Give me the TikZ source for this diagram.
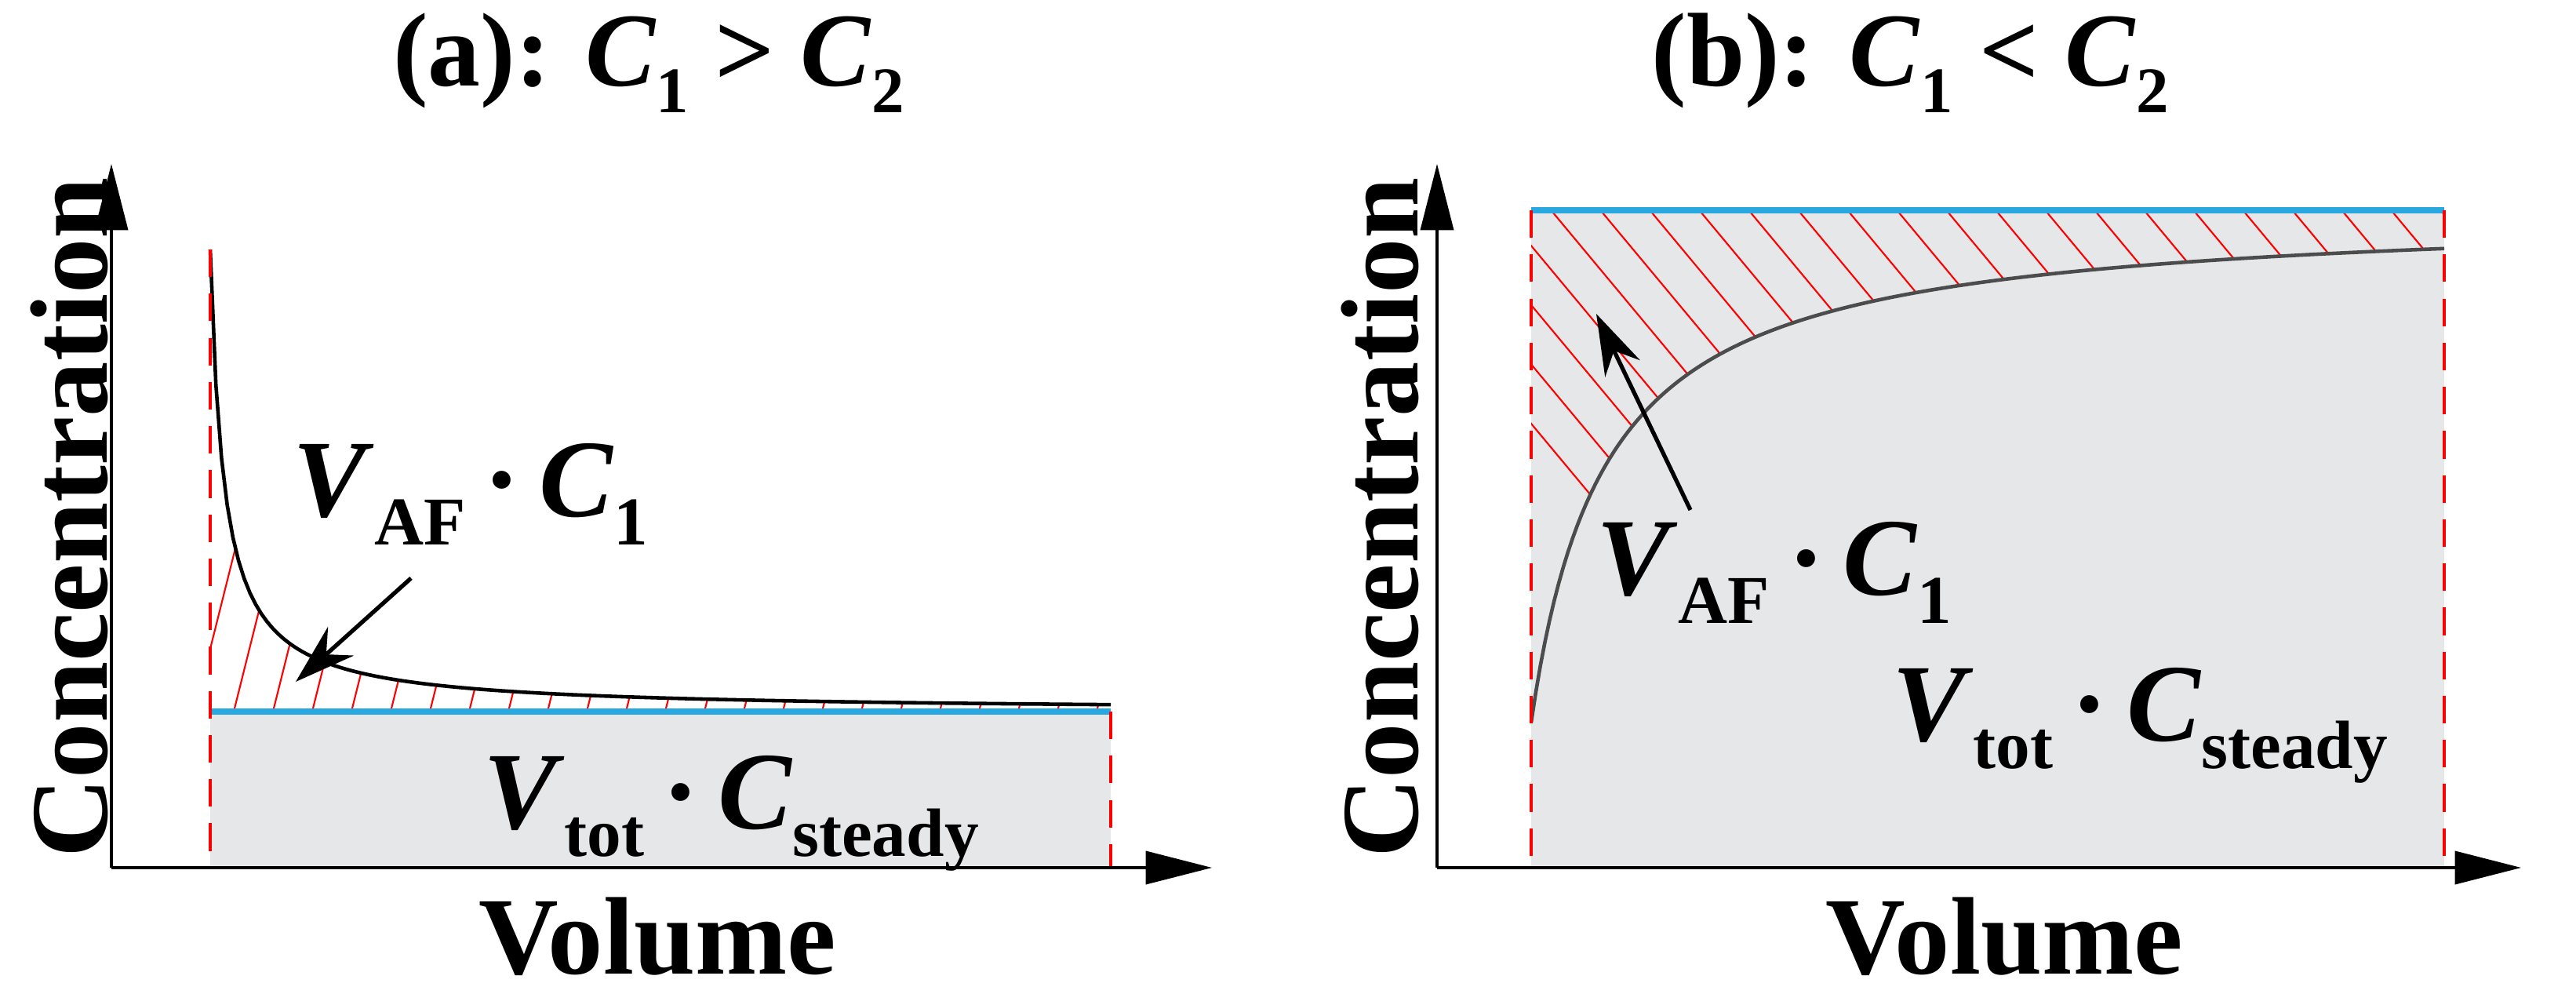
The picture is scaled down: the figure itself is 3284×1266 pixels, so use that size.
\documentclass[tikz,border=0pt]{standalone}
\usepackage{fontspec}
\setmainfont{Liberation Serif}
\usetikzlibrary{arrows.meta}
\definecolor{skyb}{RGB}{41,168,224}
\definecolor{fillg}{RGB}{230,231,233}
\newcommand\dn[1]{\raisebox{-0.55ex}{\scalebox{0.62}{#1}}}
\begin{document}
\begin{tikzpicture}[x=0.01cm,y=-0.01cm,
  axis/.style={line width=0.9pt,-{Triangle[length=24pt,width=12pt]}},
  rdash/.style={red,line width=0.9pt,dash pattern=on 10pt off 6pt},
  bline/.style={skyb,line width=2.4pt},
  curve/.style={line width=1.3pt},
  hatch/.style={red,line width=0.6pt},
  lab/.style={font=\fontsize{40}{44}\selectfont\bfseries},
  ttl/.style={font=\fontsize{38}{42}\selectfont\bfseries},
  expr/.style={font=\fontsize{40}{44}\selectfont\bfseries},
  point/.style={line width=1.5pt,-{Stealth[length=22pt,width=14pt]}}]
\useasboundingbox (0,0) rectangle (3284,1266);
% ---------- panel (a)
\fill[fillg] (268,907) rectangle (1416,1106);
\begin{scope}
\clip (268,907) -- plot[domain=268:1416,samples=120] (\x,{907-589/(\x-268+17.5)*17.5}) -- (1416,907) -- cycle;
\foreach \i in {0,...,24} \draw[hatch] ({268+\i*50-20},907) -- ({268+\i*50-20+120},427);
\end{scope}
\draw[curve] plot[domain=268:1416,samples=160] (\x,{907-589/(\x-268+17.5)*17.5});
\draw[bline] (268,907) -- (1416,907);
\coordinate (aL1) at (268,318); \coordinate (aL2) at (268,1106);
\coordinate (aR1) at (1416,907); \coordinate (aR2) at (1416,1106);
\draw[rdash] (aL1) -- (aL2);
\draw[rdash] (aR1) -- (aR2);
\coordinate (aO) at (142,1106); \coordinate (aY) at (142,209); \coordinate (aX) at (1545,1106);
\draw[axis] (aO) -- (aY);
\draw[axis] (aO) -- (aX);
\node[ttl] (ta) at (827,80) {(a): \textit{C}\dn{1} > \textit{C}\dn{2}};
\node[lab,rotate=90] (ca) at (88,660) {Concentration};
\node[lab] (va) at (838,1194) {Volume};
\node[expr] (ea) at (600,630) {\textit{V}\dn{AF}\,\textperiodcentered\,\textit{C}\dn{1}};
\node[expr] (sa) at (932,1037) {\textit{V}\dn{tot}\,\textperiodcentered\,\textit{C}\dn{steady}};
\coordinate (aA1) at (524,737); \coordinate (aA2) at (377,869);
\draw[point] (aA1) -- (aA2);
% ---------- panel (b)
\fill[fillg] (1952,268) rectangle (3116,1106);
\begin{scope}
\clip (1952,268) -- (3116,268) -- plot[domain=3116:1952,samples=160] (\x,{268+653/(\x-1952+94)*94}) -- cycle;
\foreach \i in {0,...,26} \draw[hatch] ({1952+\i*63-700},-300) -- ({1952+\i*63-700+1000},900);
\end{scope}
\draw[curve,black!70] plot[domain=1952:3116,samples=200] (\x,{268+653/(\x-1952+94)*94});
\draw[bline] (1952,268) -- (3116,268);
\coordinate (bL1) at (1952,268); \coordinate (bL2) at (1952,1106);
\coordinate (bR1) at (3116,268); \coordinate (bR2) at (3116,1106);
\draw[rdash] (bL1) -- (bL2);
\draw[rdash] (bR1) -- (bR2);
\coordinate (bO) at (1832,1106); \coordinate (bY) at (1832,209); \coordinate (bX) at (3214,1106);
\draw[axis] (bO) -- (bY);
\draw[axis] (bO) -- (bX);
\node[ttl] (tb) at (2435,80) {(b): \textit{C}\dn{1} < \textit{C}\dn{2}};
\node[lab,rotate=90] (cb) at (1759,660) {Concentration};
\node[lab] (vb) at (2555,1194) {Volume};
\node[expr] (eb) at (2262,730) {\textit{V}\dn{AF}\,\textperiodcentered\,\textit{C}\dn{1}};
\node[expr] (sb) at (2728,925) {\textit{V}\dn{tot}\,\textperiodcentered\,\textit{C}\dn{steady}};
\coordinate (bA1) at (2155,650); \coordinate (bA2) at (2035,400);
\draw[point] (bA1) -- (bA2);
\end{tikzpicture}
\end{document}
